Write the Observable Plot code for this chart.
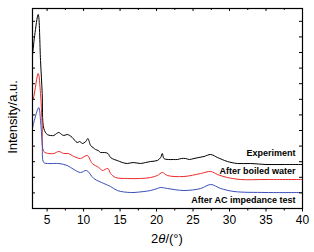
<!DOCTYPE html>
<html>
<head>
<meta charset="utf-8">
<script src="https://cdn.jsdelivr.net/npm/d3@7"></script>
<script src="https://cdn.jsdelivr.net/npm/@observablehq/plot@0.6"></script>
<style>
  html, body { margin: 0; padding: 0; background: #fff; }
  #chart { position: relative; width: 314px; height: 252px; }
</style>
</head>
<body>
<div id="chart"></div>
<script>
// 2θ (degrees)
const expX = [3.0, 3.3, 3.78, 4.1, 4.33, 4.55, 5.02, 5.5, 5.92, 6.3, 6.61, 7.0, 7.29, 7.76, 8.1, 8.45, 9.13, 9.5, 9.82, 10.3, 10.59, 10.96, 11.3, 11.64, 12.0, 12.33, 12.9, 13.33, 13.70, 14.2, 14.62, 15.3, 15.99, 16.8, 17.81, 18.5, 19.19, 20.11, 20.56, 20.79, 21.01, 21.6, 22.3, 22.85, 23.4, 23.98, 24.5, 25.13, 25.8, 26.50, 27.42, 28.34, 29.0, 29.71, 31.08, 32.90, 35.0, 37.5, 40];
const expY = [153, 173, 194, 148, 115, 80, 74, 73, 73, 75, 76, 74, 73, 74, 73, 71, 66, 67, 65, 67, 70, 63, 61, 59, 58, 56, 56, 55, 51, 49, 48, 46, 45, 46, 45, 46, 47, 48, 51, 55, 50, 49, 49, 49, 50, 50, 49, 50, 51, 52, 54, 51, 49, 47, 45, 45, 44, 44, 44];

const boilX = [3.0, 3.18, 3.78, 4.1, 4.33, 4.55, 5.24, 5.92, 6.61, 7.29, 7.90, 8.67, 9.58, 10.50, 11.19, 12.09, 12.56, 13.33, 13.70, 14.39, 15.99, 17.81, 19.19, 20.11, 20.79, 21.48, 23.75, 26.05, 27.42, 28.34, 29.71, 31.53, 35, 40];
const boilY = [108, 112, 135, 115, 83, 57, 55, 55, 57, 55, 55, 52, 50, 53, 45, 41, 38, 40, 35, 31, 30, 30, 31, 33, 36, 33, 32, 35, 37, 34, 31, 29, 29, 29];

const acX = [3.0, 3.18, 3.86, 4.1, 4.33, 4.55, 5.24, 6.61, 7.76, 8.67, 9.58, 10.41, 11.41, 12.78, 13.70, 14.62, 16.44, 18.27, 19.19, 20.11, 20.56, 21.48, 23.75, 26.05, 27.42, 28.79, 30.61, 35, 40];
const acY = [80, 86, 101, 88, 65, 46, 45, 45, 43, 39, 36, 38, 30, 25, 22, 18, 16, 17, 18, 20, 21, 20, 18, 20, 24, 20, 17, 16, 16];

const seriesNames = ["Experiment", "After boiled water", "After AC impedance test"];
const seriesColors = ["#000000", "#ee2a2a", "#3a4fb8"];
const labelY = [55, 37.3, 8.7];

const xTicks = [5, 10, 15, 20, 25, 30, 35, 40];
const xMinor = [7.5, 12.5, 17.5, 22.5, 27.5, 32.5, 37.5];
const yTicks = d3.range(1, 13).map(k => k * 15.6);

const toRows = (xs, ys) => xs.map((x, i) => ({x, y: ys[i]}));
const series = [toRows(expX, expY), toRows(boilX, boilY), toRows(acX, acY)];
const labels = seriesNames.map((name, i) => ({name, y: labelY[i], x: 40}));

const W = 314, H = 252;
const mL = 32, mR = 12, mT = 8, mB = 44;
const frameW = W - mL - mR, frameH = H - mT - mB;

const plot = Plot.plot({
  width: W, height: H,
  marginLeft: mL, marginRight: mR, marginTop: mT, marginBottom: mB,
  style: {fontFamily: "'Liberation Sans', Arial, sans-serif", background: "#fff", color: "#000"},
  x: {domain: [3, 40]},
  y: {domain: [0, 200], axis: null},
  marks: [
    // curves
    ...series.map((rows, i) => Plot.line(rows, {x: "x", y: "y", stroke: seriesColors[i], strokeWidth: 1, curve: "catmull-rom"})),
    // bottom axis: major + minor ticks, outward
    Plot.axisX({ticks: xTicks, tickSize: 3.5, tickPadding: 3, fontSize: 12, label: null, tickFormat: d => d}),
    Plot.axisX({ticks: xMinor, tickSize: 2.5, text: null, label: null}),
    // top ticks inward
    Plot.tickX(xTicks, {x: d => d, insetBottom: frameH - 3, stroke: "#000"}),
    Plot.tickX(xMinor, {x: d => d, insetBottom: frameH - 2, stroke: "#000"}),
    // left & right ticks inward
    Plot.tickY(yTicks, {y: d => d, insetRight: frameW - 3, stroke: "#000"}),
    Plot.tickY(yTicks, {y: d => d, insetLeft: frameW - 3, stroke: "#000"}),
    // frame
    Plot.frame({stroke: "#000", strokeWidth: 1.2}),
    // series labels
    Plot.text(labels, {x: "x", y: "y", text: "name", textAnchor: "end", dx: -7, fontSize: 9, fontWeight: "bold", fill: "#000"})
  ]
});

document.getElementById("chart").appendChild(plot);

// axis titles
const svg = d3.select(plot);
svg.append("text")
  .attr("transform", `translate(14, ${mT + frameH / 2 + 9}) rotate(-90)`)
  .attr("text-anchor", "middle")
  .attr("dominant-baseline", "middle")
  .attr("font-size", 13)
  .attr("fill", "#000")
  .text("Intensity/a.u.");

const xl = svg.append("text")
  .attr("x", mL + frameW / 2)
  .attr("y", 243)
  .attr("text-anchor", "middle")
  .attr("font-size", 13)
  .attr("fill", "#000");
xl.append("tspan").text("2");
xl.append("tspan").attr("font-style", "italic").text("θ");
xl.append("tspan").text("/(°)");
</script>
</body>
</html>
